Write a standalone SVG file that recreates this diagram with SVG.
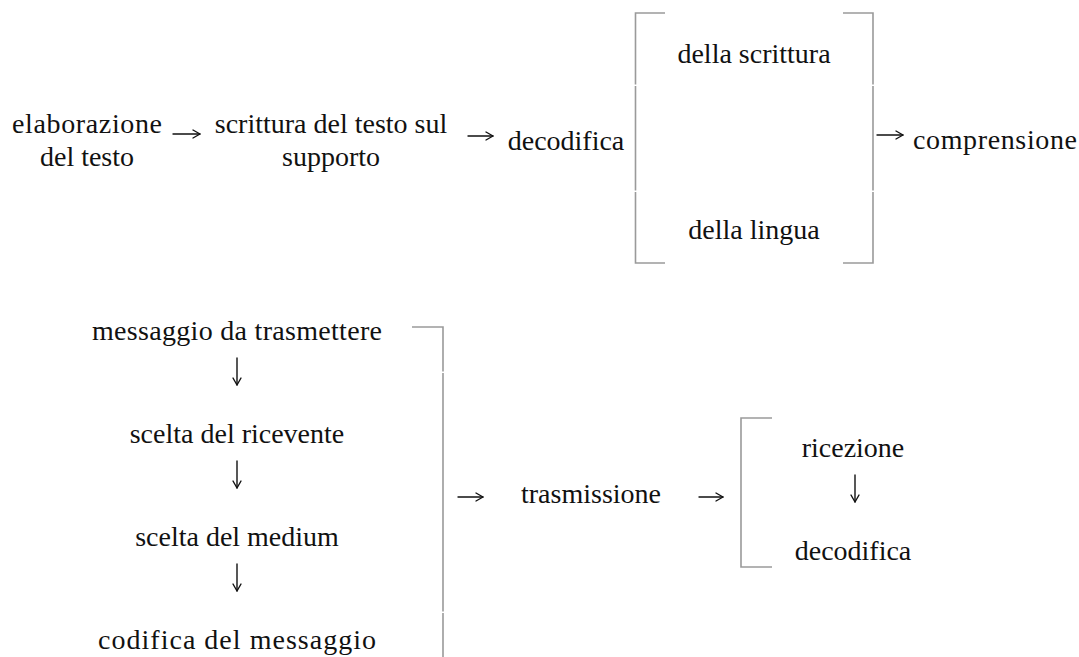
<svg xmlns="http://www.w3.org/2000/svg" width="1079" height="657" viewBox="0 0 1079 657">
<defs>
<style>
text{font-family:"Liberation Serif","Times New Roman",serif;font-size:28px;fill:#111}
.c{text-anchor:middle}
.br{fill:none;stroke:#9a9a9a;stroke-width:1.6}
.ar{fill:none;stroke:#111;stroke-width:1.4;stroke-linecap:round;stroke-linejoin:round}
</style>
<marker id="ah" viewBox="0 0 10 10" refX="9" refY="5" markerWidth="10" markerHeight="10" markerUnits="userSpaceOnUse" orient="auto">
<path d="M2,1 L9,5 L2,9" fill="none" stroke="#111" stroke-width="1.4" stroke-linecap="round" stroke-linejoin="round"/>
</marker>
</defs>
<rect width="1079" height="657" fill="#fff"/>
<g id="n-elaborazione"><text class="c" x="87" y="133" textLength="150" lengthAdjust="spacing">elaborazione</text><text class="c" x="87" y="166">del testo</text></g>
<g id="n-scrittura"><text class="c" x="331" y="133">scrittura del testo sul</text><text class="c" x="331" y="166">supporto</text></g>
<g id="n-decodifica"><text class="c" x="566" y="150">decodifica</text></g>
<g id="n-bracket-top">
<path class="br" d="M665,13 H635.5 V84.5 M635.5,86 V190.5 M635.5,192 V263 H665"/>
<path class="br" d="M843,13 H873 V84.5 M873,86 V190.5 M873,192 V263 H843"/>
<text class="c" x="754" y="63">della scrittura</text>
<text class="c" x="754" y="239">della lingua</text>
</g>
<g id="n-comprensione"><text x="913" y="149" textLength="164" lengthAdjust="spacing">comprensione</text></g>
<g id="n-colonna">
<path class="br" d="M412,327 H443 V371.5 M443,373 V611.5 M443,613 V657"/>
<text class="c" x="237" y="340" textLength="290" lengthAdjust="spacing">messaggio da trasmettere</text>
<text class="c" x="237" y="443">scelta del ricevente</text>
<text class="c" x="237" y="546">scelta del medium</text>
<text class="c" x="237" y="649" textLength="278" lengthAdjust="spacing">codifica del messaggio</text>
</g>
<g id="n-trasmissione"><text class="c" x="591" y="503">trasmissione</text></g>
<g id="n-ricezione">
<path class="br" d="M772,418 H741 V567 H772"/>
<text class="c" x="853" y="457">ricezione</text>
<text class="c" x="853" y="560">decodifica</text>
</g>
<g id="connectors">
<path class="ar" marker-end="url(#ah)" d="M173,134 H200"/>
<path class="ar" marker-end="url(#ah)" d="M468,136 H493"/>
<path class="ar" marker-end="url(#ah)" d="M877,135 H903"/>
<path class="ar" marker-end="url(#ah)" d="M458,497 H483"/>
<path class="ar" marker-end="url(#ah)" d="M699,497 H723"/>
<path class="ar" marker-end="url(#ah)" d="M855,475 V502"/>
<path class="ar" marker-end="url(#ah)" d="M237,358 V385"/>
<path class="ar" marker-end="url(#ah)" d="M237,461 V488"/>
<path class="ar" marker-end="url(#ah)" d="M237,564 V591"/>
</g>
</svg>
